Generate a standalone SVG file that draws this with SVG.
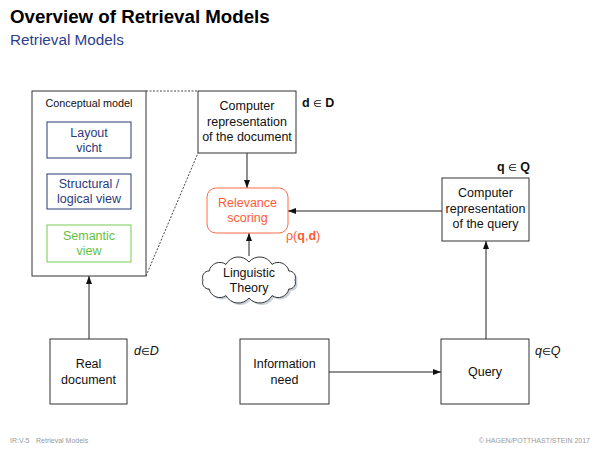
<svg xmlns="http://www.w3.org/2000/svg" width="600" height="450" viewBox="0 0 600 450">
<style>
text{font-family:"Liberation Sans",Arial,sans-serif;}
.box{fill:#fff;stroke:#333;stroke-width:1;}
.t{font-size:12.5px;fill:#111;text-anchor:middle;}
.blue{fill:#fff;stroke:#2b3a7a;stroke-width:1;}
.bt{font-size:12.5px;fill:#2b3a7a;text-anchor:middle;}
.green{fill:#fff;stroke:#77cc55;stroke-width:1;}
.gt{font-size:12.5px;fill:#66c040;text-anchor:middle;}
.conn{stroke:#222;stroke-width:1;fill:none;}
.dot{stroke:#333;stroke-width:0.9;stroke-dasharray:2 1.5;fill:none;}
.foot{font-size:7px;fill:#999;}
</style>
<defs>
<marker id="ah" viewBox="0 0 8 6" refX="8" refY="3" markerWidth="8" markerHeight="6" markerUnits="userSpaceOnUse" orient="auto">
<path d="M0,0 L8,3 L0,6 Z" fill="#111"/>
</marker>
<path id="cloud" d="M295 280 A6.5 6.5 0 0 1 288.8 289 A10.8 10.8 0 0 1 272 295.6 A13.9 13.9 0 0 1 249 298 A13.9 13.9 0 0 1 226 295.6 A10.8 10.8 0 0 1 209.2 289 A6.5 6.5 0 0 1 203 280 A6.5 6.5 0 0 1 209.2 271 A10.8 10.8 0 0 1 226 264.4 A13.9 13.9 0 0 1 249 262 A13.9 13.9 0 0 1 272 264.4 A10.8 10.8 0 0 1 288.8 271 A6.5 6.5 0 0 1 295 280 Z"/>
</defs>
<rect width="600" height="450" fill="#fff"/>
<text x="10" y="23" font-size="18.7" font-weight="bold" fill="#000">Overview of Retrieval Models</text>
<text x="10" y="45" font-size="15.3" fill="#2c3e8c">Retrieval Models</text>

<g id="connectors">
<line class="dot" x1="146" y1="91" x2="198" y2="91"/>
<line class="dot" x1="146" y1="276" x2="198" y2="153"/>
<line class="conn" x1="247" y1="153" x2="247" y2="188" marker-end="url(#ah)"/>
<line class="conn" x1="442" y1="211" x2="288" y2="211" marker-end="url(#ah)"/>
<line class="conn" x1="249" y1="256" x2="249" y2="233" marker-end="url(#ah)"/>
<line class="conn" x1="89" y1="339" x2="89" y2="276" marker-end="url(#ah)"/>
<line class="conn" x1="329" y1="372" x2="441" y2="372" marker-end="url(#ah)"/>
<line class="conn" x1="486" y1="339" x2="486" y2="241" marker-end="url(#ah)"/>
</g>

<g id="conceptual-model">
<rect class="box" x="32" y="91" width="114" height="185"/>
<text x="89" y="107" font-size="10.8" fill="#111" text-anchor="middle">Conceptual model</text>
</g>
<g id="layout-view">
<rect class="blue" x="47" y="122" width="84" height="36"/>
<text class="bt" x="89" y="137">Layout</text>
<text class="bt" x="89" y="152">vicht</text>
</g>
<g id="structural-view">
<rect class="blue" x="47" y="174" width="84" height="35"/>
<text class="bt" x="89" y="188">Structural /</text>
<text class="bt" x="89" y="203">logical view</text>
</g>
<g id="semantic-view">
<rect class="green" x="47" y="225" width="84" height="37"/>
<text class="gt" x="89" y="240">Semantic</text>
<text class="gt" x="89" y="255">view</text>
</g>

<g id="doc-representation">
<rect class="box" x="198" y="91" width="98" height="62"/>
<text class="t" x="247" y="110">Computer</text>
<text class="t" x="247" y="126">representation</text>
<text class="t" x="247" y="141">of the document</text>
<text x="302" y="107" font-size="12.5" font-weight="bold" fill="#111">d <tspan font-weight="normal" font-family="DejaVu Sans" font-size="10">∈</tspan> D</text>
</g>

<g id="relevance-scoring">
<rect x="207" y="188" width="81" height="45" rx="9" fill="#fff" stroke="#ff6a45" stroke-width="1"/>
<text x="247.5" y="207" font-size="12.5" fill="#ff5a35" text-anchor="middle">Relevance</text>
<text x="247.5" y="222" font-size="12.5" fill="#ff5a35" text-anchor="middle">scoring</text>
<text x="286" y="240" font-size="12.5" fill="#ff5a35">ρ(<tspan font-weight="bold">q</tspan>,<tspan font-weight="bold">d</tspan>)</text>
</g>

<g id="linguistic-theory">
<use href="#cloud" transform="translate(2,2)" fill="#c9d1de"/>
<use href="#cloud" fill="#fff" stroke="#333" stroke-width="1"/>
<text class="t" x="249" y="277">Linguistic</text>
<text class="t" x="249" y="292">Theory</text>
</g>

<g id="query-representation">
<rect class="box" x="442" y="178" width="87" height="63"/>
<text class="t" x="485.5" y="197">Computer</text>
<text class="t" x="485.5" y="213">representation</text>
<text class="t" x="485.5" y="228">of the query</text>
<text x="497" y="171" font-size="12.5" font-weight="bold" fill="#111">q <tspan font-weight="normal" font-family="DejaVu Sans" font-size="10">∈</tspan> Q</text>
</g>

<g id="real-document">
<rect class="box" x="50" y="339" width="77" height="65"/>
<text class="t" x="88.5" y="368">Real</text>
<text class="t" x="88.5" y="384">document</text>
<text x="134" y="355" font-size="12.5" font-style="italic" fill="#111">d<tspan font-style="normal" font-family="DejaVu Sans" font-size="10">∈</tspan>D</text>
</g>

<g id="information-need">
<rect class="box" x="240" y="339" width="89" height="65"/>
<text class="t" x="284.5" y="368">Information</text>
<text class="t" x="284.5" y="384">need</text>
</g>

<g id="query">
<rect class="box" x="441" y="339" width="88" height="65"/>
<text class="t" x="485" y="376">Query</text>
<text x="535" y="355" font-size="12.5" font-style="italic" fill="#111">q<tspan font-style="normal" font-family="DejaVu Sans" font-size="10">∈</tspan>Q</text>
</g>

<text class="foot" x="10" y="443">IR:V-5</text>
<text class="foot" x="36" y="443">Retrieval Models</text>
<text class="foot" x="590" y="443" text-anchor="end">© HAGEN/POTTHAST/STEIN 2017</text>
</svg>
